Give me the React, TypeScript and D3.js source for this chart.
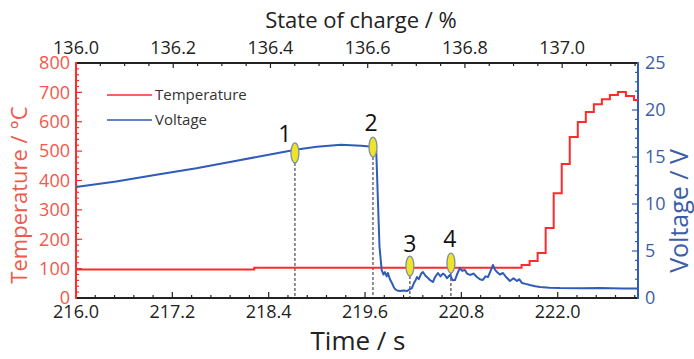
import * as d3 from "d3";

// ── Data ──────────────────────────────────────────────────────
const TIME_DOMAIN = [216, 223];
const SOC_DOMAIN = [136.0, 137.156];
const TEMP_DOMAIN = [0, 800];
const VOLT_DOMAIN = [0, 25];

const TIME_TICKS = [216.0, 217.2, 218.4, 219.6, 220.8, 222.0];
const SOC_TICKS = [136.0, 136.2, 136.4, 136.6, 136.8, 137.0];
const TEMP_TICKS = [0, 100, 200, 300, 400, 500, 600, 700, 800];
const VOLT_TICKS = [0, 5, 10, 15, 20, 25];

// temperature trace (stepped logger)
const TEMP_TIME = [216.0, 218.22, 221.55, 221.65, 221.75, 221.85, 221.95, 222.05, 222.15, 222.25, 222.35, 222.45, 222.55, 222.65, 222.75, 222.85, 222.95, 223.0];
const TEMP_VAL = [97, 103, 112, 126, 153, 238, 357, 456, 548, 599, 633, 660, 677, 691, 701, 688, 674, 674];

// voltage trace
const VOLT_TIME = [
  216.0, 216.5, 217.0, 217.5, 218.0, 218.5, 218.75, 219.0, 219.3, 219.55, 219.7, 219.74, 219.76, 219.78, 219.807,
  219.83, 219.848, 219.87, 219.885, 219.91, 219.935, 219.955, 219.973, 220.0, 220.035, 220.08, 220.122, 220.15,
  220.184, 220.21, 220.23, 220.247, 220.27, 220.3, 220.321, 220.35, 220.384, 220.41, 220.446, 220.47, 220.508,
  220.54, 220.57, 220.595, 220.62, 220.658, 220.69, 220.72, 220.75, 220.782, 220.81, 220.844, 220.87, 220.907,
  220.95, 220.994, 221.03, 221.068, 221.1, 221.131, 221.16, 221.193, 221.22, 221.243, 221.28, 221.318, 221.36,
  221.405, 221.45, 221.492, 221.52, 221.554, 221.6, 221.654, 221.72, 221.778, 221.9, 222.027, 222.3, 222.525,
  222.8, 223.0,
];
const VOLT_VAL = [
  11.8, 12.4, 13.1, 13.8, 14.6, 15.4, 15.8, 16.1, 16.3, 16.2, 16.1, 15.6, 10.5, 5.5, 2.98,
  2.5, 2.75, 2.3, 2.66, 2.0, 1.6, 1.2, 0.96, 0.8, 0.74, 0.8, 0.74, 0.9,
  1.06, 1.6, 1.9, 2.23, 2.0, 2.6, 2.77, 2.4, 2.13, 1.9, 1.7, 2.2, 2.66,
  2.3, 2.6, 2.45, 2.1, 2.45, 1.9, 1.91, 2.6, 3.19, 2.9, 2.98, 2.6, 2.45,
  2.6, 2.23, 2.0, 1.91, 2.3, 2.23, 2.8, 3.51, 3.0, 2.77, 2.5, 2.66, 2.2,
  1.81, 2.1, 1.8, 2.0, 1.6, 1.5, 1.38, 1.25, 1.17, 1.1, 1.06, 1.05, 1.06,
  1.02, 1.0,
];

// numbered event markers
const MARK_ID = ["1", "2", "3", "4"];
const MARK_TIME = [218.727, 219.699, 220.159, 220.67];
const MARK_VOLT = [15.43, 16.06, 3.4, 3.72];

// ── Layout ────────────────────────────────────────────────────
const W = 694;
const H = 359;
const L = 76;
const R = 638;
const T = 63;
const B = 298;

const FONT = "'Open Sans', 'Segoe UI', 'DejaVu Sans', sans-serif";
const RED = "#ff2a2a";
const RED_TXT = "#f2584a";
const BLUE = "#2e5cb8";
const BLUE_TXT = "#3b5ea8";
const INK = "#222";

// label nudges [dx, gap above marker]
const LABEL_NUDGE = [[-10, 1], [-2, 6], [0, 4], [-1, 6]];

export default function App() {
  const x = d3.scaleLinear().domain(TIME_DOMAIN).range([L, R]);
  const xTop = d3.scaleLinear().domain(SOC_DOMAIN).range([L, R]);
  const yT = d3.scaleLinear().domain(TEMP_DOMAIN).range([B, T]);
  const yV = d3.scaleLinear().domain(VOLT_DOMAIN).range([B, T]);

  const tempLine = d3.line<number>()
    .x((_d, i) => x(TEMP_TIME[i]))
    .y((d) => yT(d))
    .curve(d3.curveStepAfter);
  const voltLine = d3.line<number>()
    .x((_d, i) => x(VOLT_TIME[i]))
    .y((d) => yV(d));

  const timeMinor = d3.range(216, 223.0001, 0.24).filter((t) => t <= 223);
  const socMinor = d3.range(136.0, 137.16, 0.05).filter((s) => s <= SOC_DOMAIN[1]);
  const tempMinor = d3.range(0, 801, 20);
  const voltMinor = d3.range(0, 25.001, 1);

  const RX = 4;
  const RY = 10;

  return (
    <svg width={W} height={H} style={{ position: "absolute", left: 0, top: 0, background: "#fff" }} fontFamily={FONT}>
      {/* titles */}
      <text x={361} y={28} textAnchor="middle" fontSize={22} fill={INK}>State of charge / %</text>
      <text x={358} y={350} textAnchor="middle" fontSize={26} fill={INK}>Time / s</text>
      <text transform="translate(27,195) rotate(-90)" textAnchor="middle" fontSize={22} fill={RED_TXT}>Temperature / °C</text>
      <text transform="translate(688,211) rotate(-90)" textAnchor="middle" fontSize={25} fill={BLUE_TXT}>Voltage / V</text>

      {/* bottom axis */}
      {timeMinor.map((t, i) => (
        <line key={"tm" + i} x1={x(t)} x2={x(t)} y1={B} y2={B - (i % 5 === 0 ? 6 : 3)} stroke={INK} strokeWidth={1.2} />
      ))}
      {TIME_TICKS.map((t) => (
        <text key={"tt" + t} x={x(t)} y={318} textAnchor="middle" fontSize={18} fill={INK}>{t.toFixed(1)}</text>
      ))}

      {/* top axis */}
      {socMinor.map((s, i) => (
        <line key={"sm" + i} x1={xTop(s)} x2={xTop(s)} y1={T} y2={T + (i % 4 === 0 ? 5 : 3)} stroke={INK} strokeWidth={1.2} />
      ))}
      {SOC_TICKS.map((s) => (
        <text key={"st" + s} x={xTop(s)} y={54} textAnchor="middle" fontSize={18} fill={INK}>{s.toFixed(1)}</text>
      ))}

      {/* left axis */}
      {tempMinor.map((v, i) => (
        <line key={"lm" + i} x1={L} x2={L + (i % 5 === 0 ? 6 : 3)} y1={yT(v)} y2={yT(v)} stroke={RED} strokeWidth={1.2} />
      ))}
      {TEMP_TICKS.map((v) => (
        <text key={"lt" + v} x={70} y={yT(v)} dy="0.35em" textAnchor="end" fontSize={18} fill={RED_TXT}>{v}</text>
      ))}

      {/* right axis */}
      {voltMinor.map((v, i) => (
        <line key={"rm" + i} x1={R} x2={R - (i % 5 === 0 ? 6 : 3)} y1={yV(v)} y2={yV(v)} stroke={BLUE} strokeWidth={1.2} />
      ))}
      {VOLT_TICKS.map((v) => (
        <text key={"rt" + v} x={645} y={yV(v)} dy="0.35em" textAnchor="start" fontSize={18} fill={BLUE_TXT}>{v}</text>
      ))}

      {/* frame */}
      <line x1={L} x2={R} y1={T} y2={T} stroke={INK} strokeWidth={2} />
      <line x1={L} x2={R} y1={B} y2={B} stroke={INK} strokeWidth={2} />
      <line x1={L} x2={L} y1={T - 1} y2={B + 1} stroke={RED} strokeWidth={2} />
      <line x1={R} x2={R} y1={T - 1} y2={B + 1} stroke={BLUE} strokeWidth={2} />

      {/* dashed guides */}
      {MARK_TIME.map((t, i) => (
        <line key={"dg" + i} x1={x(t)} x2={x(t)} y1={yV(MARK_VOLT[i]) + RY} y2={B} stroke={INK} strokeWidth={1} strokeDasharray="3,2" />
      ))}

      {/* traces */}
      <path d={tempLine(TEMP_VAL) ?? ""} fill="none" stroke={RED} strokeWidth={2} />
      <path d={voltLine(VOLT_VAL) ?? ""} fill="none" stroke={BLUE} strokeWidth={2} strokeLinejoin="round" />

      {/* markers */}
      {MARK_TIME.map((t, i) => (
        <g key={"mk" + i}>
          <ellipse cx={x(t)} cy={yV(MARK_VOLT[i])} rx={RX} ry={RY} fill="#eee428" stroke="#7d8ea5" strokeWidth={1.3} />
          <text
            x={x(t) + LABEL_NUDGE[i][0]}
            y={yV(MARK_VOLT[i]) - RY - LABEL_NUDGE[i][1]}
            textAnchor="middle"
            fontSize={23}
            fill="#111"
          >
            {MARK_ID[i]}
          </text>
        </g>
      ))}

      {/* legend */}
      <line x1={107} x2={152} y1={95} y2={95} stroke={RED} strokeWidth={1.5} />
      <text x={155} y={100} fontSize={15} fill="#333">Temperature</text>
      <line x1={107} x2={152} y1={120} y2={120} stroke={BLUE} strokeWidth={1.5} />
      <text x={155} y={125} fontSize={15} fill="#333">Voltage</text>
    </svg>
  );
}
